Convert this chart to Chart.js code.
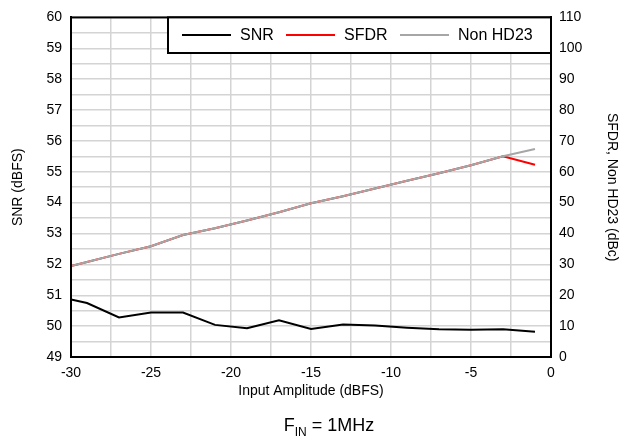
<!DOCTYPE html>
<html><head><meta charset="utf-8">
<script src="https://cdn.jsdelivr.net/npm/chart.js@4/dist/chart.umd.min.js"></script>
<style>html,body{margin:0;padding:0;background:#fff;}canvas{display:block;}</style>
</head><body>
<canvas id="c" width="631" height="439"></canvas>
<script>
// ---- data ----
const inputAmplitude = [-30, -29, -27, -25, -23, -21, -19, -17, -15, -13, -11, -9, -7, -5, -3, -1];
const snr = [50.86, 50.75, 50.28, 50.44, 50.44, 50.04, 49.93, 50.19, 49.91, 50.05, 50.02, 49.95, 49.90, 49.88, 49.90, 49.82];
const sfdr = [29.5, 30.8, 33.4, 35.9, 39.5, 41.7, 44.2, 46.9, 49.8, 52.1, 54.6, 57.1, 59.5, 62.1, 65.0, 62.3];
const nonHD23 = [29.5, 30.8, 33.4, 35.9, 39.5, 41.7, 44.2, 46.9, 49.8, 52.1, 54.6, 57.1, 59.5, 62.1, 65.0, 67.4];
const xTickLabels = [-30, -25, -20, -15, -10, -5, 0];
const snrTickLabels = [49, 50, 51, 52, 53, 54, 55, 56, 57, 58, 59, 60];
const dbcTickLabels = [0, 10, 20, 30, 40, 50, 60, 70, 80, 90, 100, 110];
const seriesNames = ['SNR', 'SFDR', 'Non HD23'];
const seriesColors = ['#000000', '#ff0000', '#a6a6a6'];

const FONT = '"Liberation Sans", Arial, Helvetica, sans-serif';
const pts = (ys) => inputAmplitude.map((x, i) => ({x: x, y: ys[i]}));

const framePlugin = {
  id: 'frame',
  afterDatasetsDraw(chart) {
    const {ctx, chartArea: a} = chart;
    ctx.save();
    ctx.strokeStyle = '#000';
    ctx.lineWidth = 2;
    ctx.strokeRect(a.left, a.top, a.right - a.left, a.bottom - a.top);
    ctx.restore();
  }
};

const legendPlugin = {
  id: 'customLegend',
  afterDraw(chart) {
    const {ctx, chartArea: a} = chart;
    const boxL = 168, boxT = a.top, boxR = a.right, boxB = 53;
    ctx.save();
    ctx.fillStyle = '#fff';
    ctx.fillRect(boxL, boxT, boxR - boxL, boxB - boxT);
    ctx.strokeStyle = '#000';
    ctx.lineWidth = 2;
    ctx.strokeRect(boxL, boxT, boxR - boxL, boxB - boxT);
    const cy = 35;
    const starts = [182, 286, 400];
    ctx.font = '16px ' + FONT;
    ctx.textBaseline = 'middle';
    ctx.textAlign = 'left';
    chart.data.datasets.forEach((ds, i) => {
      const x0 = starts[i];
      ctx.strokeStyle = ds.borderColor;
      ctx.lineWidth = 2;
      ctx.beginPath();
      ctx.moveTo(x0, cy);
      ctx.lineTo(x0 + 49, cy);
      ctx.stroke();
      ctx.fillStyle = '#000';
      ctx.fillText(ds.label, x0 + 58, cy + 1);
    });
    ctx.restore();
  }
};

const subtitlePlugin = {
  id: 'fin',
  afterDraw(chart) {
    const {ctx} = chart;
    ctx.save();
    ctx.fillStyle = '#000';
    ctx.textBaseline = 'alphabetic';
    ctx.textAlign = 'left';
    const big = '18px ' + FONT, small = '12px ' + FONT;
    const base = 431;
    ctx.font = big; const wF = ctx.measureText('F').width;
    ctx.font = small; const wIN = ctx.measureText('IN').width;
    ctx.font = big; const wR = ctx.measureText(' = 1MHz').width;
    let x = 329 - (wF + wIN + wR) / 2;
    ctx.font = big; ctx.fillText('F', x, base); x += wF;
    ctx.font = small; ctx.fillText('IN', x, base + 5); x += wIN;
    ctx.font = big; ctx.fillText(' = 1MHz', x, base);
    ctx.restore();
  }
};

new Chart(document.getElementById('c'), {
  type: 'line',
  data: {
    datasets: [
      {label: seriesNames[0], data: pts(snr), yAxisID: 'y', borderColor: seriesColors[0], order: 0},
      {label: seriesNames[1], data: pts(sfdr), yAxisID: 'y1', borderColor: seriesColors[1], order: 2},
      {label: seriesNames[2], data: pts(nonHD23), yAxisID: 'y1', borderColor: seriesColors[2], order: 1}
    ]
  },
  options: {
    responsive: false,
    animation: false,
    layout: {padding: {top: 16, left: 0, right: 0, bottom: 0}},
    plugins: {legend: {display: false}, tooltip: {enabled: false}},
    elements: {point: {radius: 0}, line: {tension: 0, borderWidth: 2, fill: false}},
    scales: {
      x: {
        type: 'linear', position: 'bottom', min: -30, max: 0,
        ticks: {stepSize: 2.5, autoSkip: false, maxRotation: 0, padding: 8, color: '#000',
          font: {family: FONT, size: 14},
          callback: (v) => xTickLabels.includes(v) ? String(v) : ''},
        grid: {color: '#d4d4d4', lineWidth: 1.5, drawTicks: false},
        border: {display: true, color: '#000', width: 2},
        title: {display: true, text: 'Input Amplitude (dBFS)', color: '#000',
          font: {family: FONT, size: 14}, padding: {top: 0, bottom: 39}},
        afterFit: (s) => { s.height = 82; }
      },
      y: {
        type: 'linear', position: 'left', min: 49, max: 60,
        ticks: {stepSize: 0.5, autoSkip: false, padding: 9, color: '#000',
          font: {family: FONT, size: 14},
          callback: (v) => snrTickLabels.includes(v) ? String(v) : ''},
        grid: {color: '#d4d4d4', lineWidth: 1.5, drawTicks: false},
        border: {display: true, color: '#000', width: 2},
        title: {display: true, text: 'SNR (dBFS)', color: '#000',
          font: {family: FONT, size: 14}, padding: {top: 10, bottom: 0}},
        afterFit: (s) => { s.width = 71; }
      },
      y1: {
        type: 'linear', position: 'right', min: 0, max: 110,
        ticks: {stepSize: 10, autoSkip: false, padding: 8, color: '#000',
          font: {family: FONT, size: 14},
          callback: (v) => dbcTickLabels.includes(v) ? String(v) : ''},
        grid: {display: false, drawTicks: false},
        border: {display: true, color: '#000', width: 2},
        title: {display: true, text: 'SFDR, Non HD23 (dBc)', color: '#000',
          font: {family: FONT, size: 14}, padding: {top: 11, bottom: 0}},
        afterFit: (s) => { s.width = 80; }
      }
    }
  },
  plugins: [framePlugin, legendPlugin, subtitlePlugin]
});
</script>
</body></html>
